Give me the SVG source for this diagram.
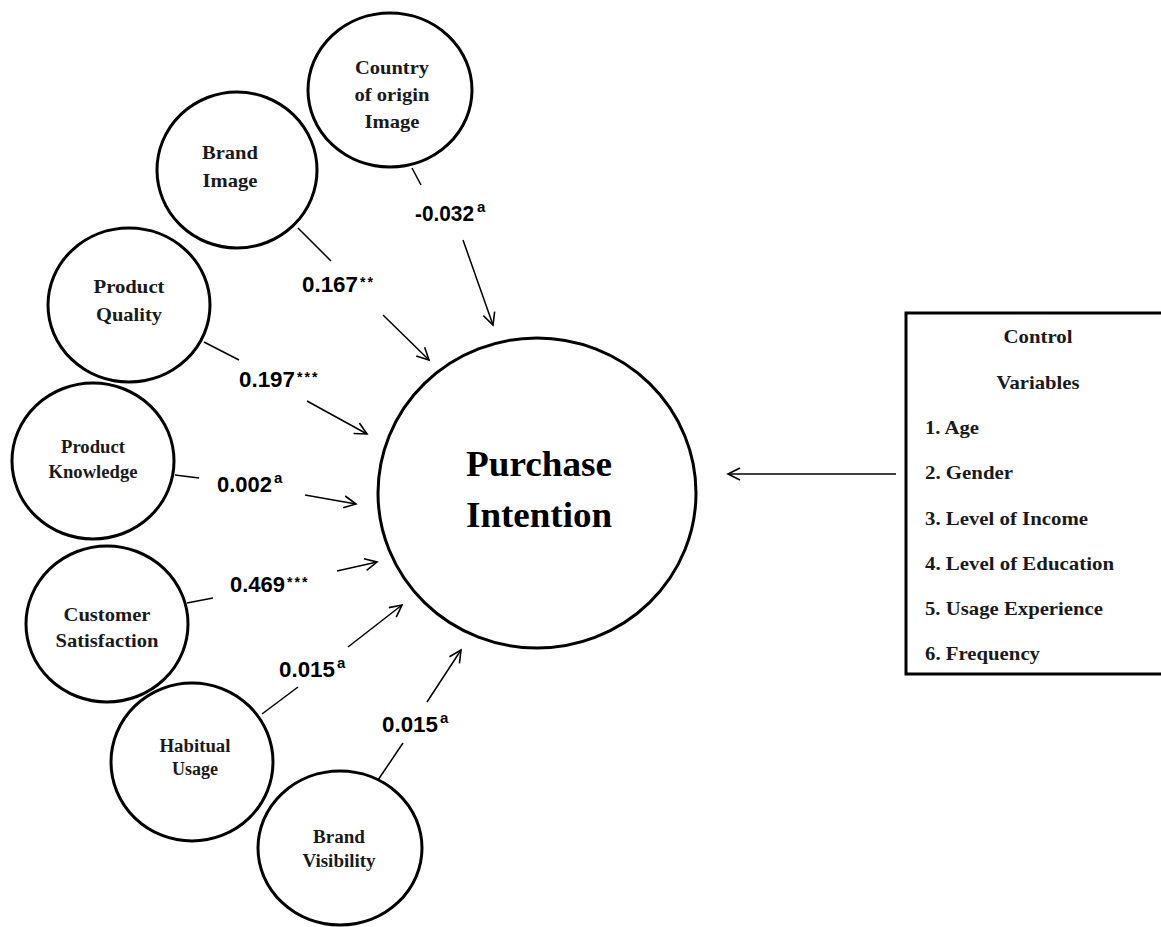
<svg xmlns="http://www.w3.org/2000/svg" width="1161" height="927" viewBox="0 0 1161 927">
<defs>
<marker id="arr" markerUnits="userSpaceOnUse" markerWidth="16" markerHeight="16" refX="13" refY="7" orient="auto">
<path d="M1,1 L13,7 L1,13" fill="none" stroke="#000" stroke-width="1.6"/>
</marker>
</defs>
<style>
.node ellipse{fill:#fff;stroke:#000;stroke-width:3}
.nt{font-family:"Liberation Serif","Times New Roman",serif;font-weight:bold;fill:#1a1a1a;text-anchor:middle}
.big{font-size:19.5px}
.sm{font-size:18px}
.pi{font-size:36px;fill:#000}
.ct{font-family:"Liberation Serif","Times New Roman",serif;font-weight:bold;font-size:19px;fill:#1a1a1a}
.conn line{stroke:#000;stroke-width:1.5}
.lbl{font-family:"Liberation Sans",Arial,sans-serif;font-weight:bold;font-size:22px;fill:#000}
.sup{font-size:15px}
.ast{font-size:14px}
</style>
<rect width="1161" height="927" fill="#fff"/>

<g id="n-country" class="node">
<ellipse cx="390" cy="90" rx="82" ry="77"/>
<text class="nt big" x="392" y="74" textLength="74" lengthAdjust="spacingAndGlyphs">Country</text>
<text class="nt big" x="392" y="101" textLength="75" lengthAdjust="spacingAndGlyphs">of origin</text>
<text class="nt big" x="392" y="128" textLength="55" lengthAdjust="spacingAndGlyphs">Image</text>
</g>

<g id="n-brandimage" class="node">
<ellipse cx="237" cy="170" rx="80" ry="78"/>
<text class="nt big" x="230" y="159" textLength="56" lengthAdjust="spacingAndGlyphs">Brand</text>
<text class="nt big" x="230" y="187" textLength="55" lengthAdjust="spacingAndGlyphs">Image</text>
</g>

<g id="n-quality" class="node">
<ellipse cx="129" cy="305" rx="81" ry="77"/>
<text class="nt big" x="129" y="293" textLength="71" lengthAdjust="spacingAndGlyphs">Product</text>
<text class="nt big" x="129" y="321" textLength="66" lengthAdjust="spacingAndGlyphs">Quality</text>
</g>

<g id="n-knowledge" class="node">
<ellipse cx="93" cy="461" rx="81" ry="78"/>
<text class="nt sm" x="93" y="453" textLength="64" lengthAdjust="spacingAndGlyphs">Product</text>
<text class="nt sm" x="93" y="478" textLength="89" lengthAdjust="spacingAndGlyphs">Knowledge</text>
</g>

<g id="n-satisfaction" class="node">
<ellipse cx="107" cy="624" rx="81" ry="78"/>
<text class="nt big" x="107" y="621" textLength="87" lengthAdjust="spacingAndGlyphs">Customer</text>
<text class="nt big" x="107" y="647" textLength="103" lengthAdjust="spacingAndGlyphs">Satisfaction</text>
</g>

<g id="n-habitual" class="node">
<ellipse cx="192" cy="762" rx="81" ry="79"/>
<text class="nt sm" x="195" y="752" textLength="71" lengthAdjust="spacingAndGlyphs">Habitual</text>
<text class="nt sm" x="195" y="775" textLength="46" lengthAdjust="spacingAndGlyphs">Usage</text>
</g>

<g id="n-visibility" class="node">
<ellipse cx="340" cy="848" rx="82" ry="77"/>
<text class="nt sm" x="339" y="843" textLength="52" lengthAdjust="spacingAndGlyphs">Brand</text>
<text class="nt sm" x="339" y="867" textLength="73" lengthAdjust="spacingAndGlyphs">Visibility</text>
</g>

<g id="n-purchase" class="node">
<ellipse cx="537" cy="493" rx="159" ry="155"/>
<text class="nt pi" x="539" y="476" textLength="146" lengthAdjust="spacingAndGlyphs">Purchase</text>
<text class="nt pi" x="539" y="527" textLength="146" lengthAdjust="spacingAndGlyphs">Intention</text>
</g>

<g id="n-control">
<rect x="906" y="313" width="264" height="361" fill="#fff" stroke="#000" stroke-width="3"/>
<text class="ct" x="1038" y="343" text-anchor="middle" textLength="69" lengthAdjust="spacingAndGlyphs">Control</text>
<text class="ct" x="1038" y="389" text-anchor="middle" textLength="83" lengthAdjust="spacingAndGlyphs">Variables</text>
<text class="ct" x="925" y="434" textLength="54" lengthAdjust="spacingAndGlyphs">1. Age</text>
<text class="ct" x="925" y="479" textLength="88" lengthAdjust="spacingAndGlyphs">2. Gender</text>
<text class="ct" x="925" y="525" textLength="163" lengthAdjust="spacingAndGlyphs">3. Level of Income</text>
<text class="ct" x="925" y="570" textLength="189" lengthAdjust="spacingAndGlyphs">4. Level of Education</text>
<text class="ct" x="925" y="615" textLength="178" lengthAdjust="spacingAndGlyphs">5. Usage Experience</text>
<text class="ct" x="925" y="660" textLength="115" lengthAdjust="spacingAndGlyphs">6. Frequency</text>
</g>

<g id="connectors" class="conn">
<line x1="412" y1="168" x2="421" y2="185"/>
<line x1="463" y1="240" x2="493" y2="325" marker-end="url(#arr)"/>
<line x1="298" y1="228" x2="331" y2="261"/>
<line x1="383" y1="315" x2="429" y2="360" marker-end="url(#arr)"/>
<line x1="204" y1="342" x2="239" y2="360"/>
<line x1="307" y1="401" x2="367" y2="434" marker-end="url(#arr)"/>
<line x1="175" y1="475" x2="199" y2="478"/>
<line x1="305" y1="495" x2="356" y2="504" marker-end="url(#arr)"/>
<line x1="187" y1="603" x2="213" y2="598"/>
<line x1="337" y1="571" x2="377" y2="562" marker-end="url(#arr)"/>
<line x1="262" y1="714" x2="298" y2="687"/>
<line x1="348" y1="647" x2="402" y2="605" marker-end="url(#arr)"/>
<line x1="378" y1="780" x2="403" y2="743"/>
<line x1="427" y1="702" x2="461" y2="650" marker-end="url(#arr)"/>
<line x1="896" y1="474" x2="728" y2="474" marker-end="url(#arr)"/>
</g>

<g id="labels">
<text class="lbl" x="415" y="221" textLength="59" lengthAdjust="spacingAndGlyphs">-0.032</text>
<text class="lbl sup" x="477" y="212">a</text>
<text class="lbl" x="302" y="292" textLength="56" lengthAdjust="spacingAndGlyphs">0.167</text>
<text class="lbl ast" x="360" y="287" letter-spacing="2">**</text>
<text class="lbl" x="239" y="387" textLength="56" lengthAdjust="spacingAndGlyphs">0.197</text>
<text class="lbl ast" x="297" y="382" letter-spacing="2">***</text>
<text class="lbl" x="217" y="492" textLength="55" lengthAdjust="spacingAndGlyphs">0.002</text>
<text class="lbl sup" x="274" y="483">a</text>
<text class="lbl" x="230" y="592" textLength="55" lengthAdjust="spacingAndGlyphs">0.469</text>
<text class="lbl ast" x="287" y="587" letter-spacing="2">***</text>
<text class="lbl" x="279" y="677" textLength="56" lengthAdjust="spacingAndGlyphs">0.015</text>
<text class="lbl sup" x="337" y="668">a</text>
<text class="lbl" x="382" y="732" textLength="56" lengthAdjust="spacingAndGlyphs">0.015</text>
<text class="lbl sup" x="440" y="723">a</text>
</g>
</svg>
